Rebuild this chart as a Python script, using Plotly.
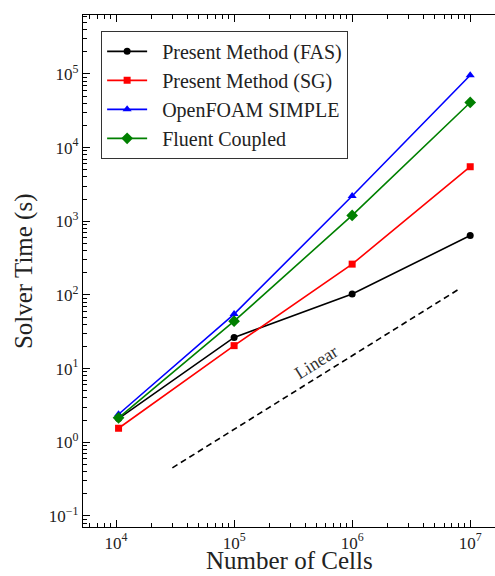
import plotly.graph_objects as go

# Mesh sizes (number of cells) and measured solver wall times in seconds
cells = [1.05e4, 1.0e5, 1.0e6, 1.0e7]
fas_time = [2.1, 26.5, 103, 640]
sg_time = [1.55, 20.5, 262, 5500]
openfoam_time = [2.4, 55, 2200, 96000]
fluent_time = [2.15, 44, 1200, 41000]

# Reference slope-1 (linear scaling) guide
linear_cells = [3.0e4, 8.1e6]
linear_time = [0.45, 121]

x_tickvals = [1e4, 1e5, 1e6, 1e7]
x_ticktext = ["10<sup>4</sup>", "10<sup>5</sup>", "10<sup>6</sup>", "10<sup>7</sup>"]
y_tickvals = [1e-1, 1e0, 1e1, 1e2, 1e3, 1e4, 1e5]
y_ticktext = ["10<sup>\u22121</sup>", "10<sup>0</sup>", "10<sup>1</sup>", "10<sup>2</sup>",
              "10<sup>3</sup>", "10<sup>4</sup>", "10<sup>5</sup>"]

# Minor ticks at 2..9 within each decade
x_minor = [k * 10.0 ** d for d in range(3, 8) for k in range(2, 10)]
y_minor = [k * 10.0 ** d for d in range(-2, 6) for k in range(2, 10)]

FONT = "Liberation Serif"
NB = "\u00a0\u00a0"

fig = go.Figure()

series = [
    ("Present Method (FAS)", fas_time, "black", "circle", 7),
    ("Present Method (SG)", sg_time, "red", "square", 7),
    ("OpenFOAM SIMPLE", openfoam_time, "blue", "triangle-up", 8),
    ("Fluent Coupled", fluent_time, "green", "diamond", 9),
]
for i, (name, t, color, sym, size) in enumerate(series):
    fig.add_trace(go.Scatter(
        x=cells, y=t, name=NB + name, mode="lines+markers",
        legendgroup=f"g{i}",
        line=dict(color=color, width=1.6),
        marker=dict(symbol=sym, size=size, color=color),
    ))

fig.add_trace(go.Scatter(
    x=linear_cells, y=linear_time, mode="lines", showlegend=False,
    line=dict(color="black", width=1.6, dash="6px,4px"),
))

fig.add_annotation(
    x=5.7, y=1.085, xref="x", yref="y", text="Linear", showarrow=False,
    textangle=-32, font=dict(family=FONT, size=18, color="#333"),
)

# Axis titles placed as paper annotations
fig.add_annotation(
    x=0.5, y=-0.0957, xref="paper", yref="paper", text="Number of Cells",
    showarrow=False, xanchor="center", yanchor="bottom",
    font=dict(family=FONT, size=25, color="#222"),
)
fig.add_annotation(
    x=-0.143, y=0.5, xref="paper", yref="paper", text="Solver Time (s)",
    showarrow=False, xanchor="center", yanchor="middle", textangle=-90,
    font=dict(family=FONT, size=25, color="#222"),
)

axis_common = dict(
    type="log", showgrid=False, zeroline=False, automargin=False,
    showline=True, linecolor="black", linewidth=1.2,
    ticks="inside", ticklen=7, tickwidth=1, tickcolor="black",
    tickfont=dict(family=FONT, size=17, color="#222"),
)

fig.update_xaxes(
    **axis_common, range=[3.72, 7.21],
    tickvals=x_tickvals, ticktext=x_ticktext, mirror="allticks",
    minor=dict(tickvals=x_minor, ticks="inside", ticklen=4, tickwidth=1,
               tickcolor="black", showgrid=False),
)
fig.update_yaxes(
    **axis_common, range=[-1.15, 5.8],
    tickvals=y_tickvals, ticktext=y_ticktext,
    minor=dict(tickvals=y_minor, ticks="inside", ticklen=4, tickwidth=1,
               tickcolor="black", showgrid=False),
)

fig.update_layout(
    width=495, height=576,
    margin=dict(l=83, r=0, t=15, b=49, autoexpand=False),
    plot_bgcolor="white", paper_bgcolor="white",
    legend=dict(
        x=0.044, y=0.969, xanchor="left", yanchor="top",
        bordercolor="#333", borderwidth=1, bgcolor="white",
        font=dict(family=FONT, size=20, color="#222"),
        tracegroupgap=0, itemwidth=40,
    ),
)

fig.write_html("out.html")
